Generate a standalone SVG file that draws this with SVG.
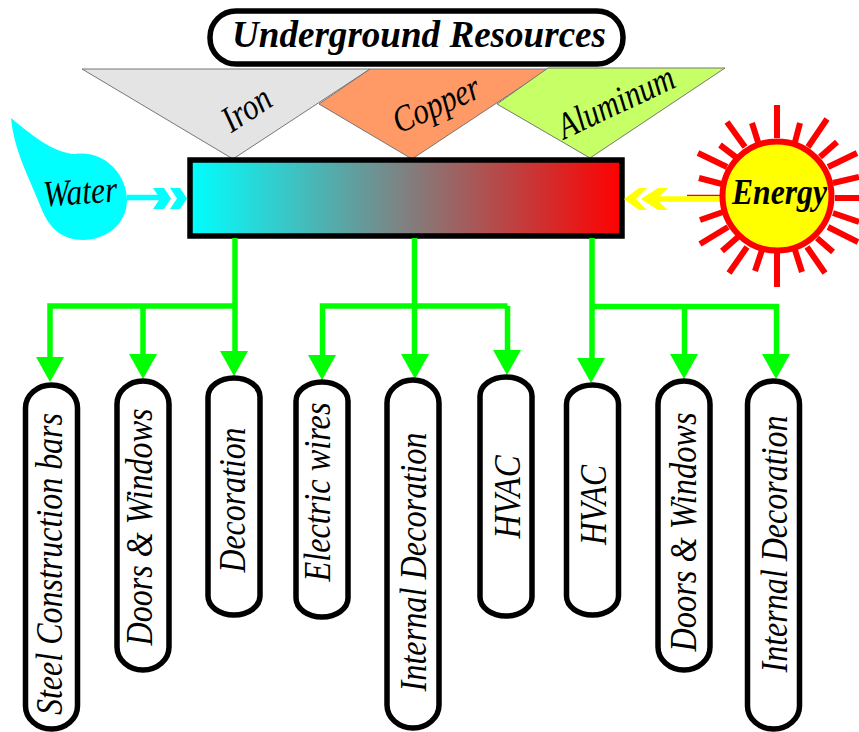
<svg xmlns="http://www.w3.org/2000/svg" width="859" height="732" viewBox="0 0 859 732">
<style>
text{font-family:"Liberation Serif","Times New Roman",serif;font-style:italic;fill:#000;text-anchor:middle}
.pill{fill:#fff;stroke:#000;stroke-width:5.5}
.lbl{font-size:37px}
.tri{stroke:#777;stroke-width:1}
.g{fill:none;stroke:#0f0;stroke-width:5.5}
.ray{stroke:#f00;stroke-width:6;fill:none}
</style>
<defs>
<linearGradient id="grad"><stop offset="0" stop-color="#0ff"/><stop offset=".5" stop-color="#808080"/><stop offset="1" stop-color="#f00"/></linearGradient>
<polygon id="head" points="-14,-25 14,-25 0,0" fill="#0f0"/>
</defs>
<g id="node-iron"><polygon class="tri" points="82,69 370,69 233,159" fill="#e4e4e4"/><text transform="translate(253 119) rotate(-33)" class="lbl" textLength="52" lengthAdjust="spacingAndGlyphs">Iron</text></g>
<g id="node-copper"><polygon class="tri" points="319,104 370,69 548,69 412,159" fill="#ff9966"/><text transform="translate(441 115) rotate(-24)" class="lbl" textLength="92" lengthAdjust="spacingAndGlyphs">Copper</text></g>
<g id="node-aluminum"><polygon class="tri" points="497,104 548,68 725,68 590,158" fill="#c6ff66"/><text transform="translate(621 113) rotate(-25)" class="lbl" textLength="125" lengthAdjust="spacingAndGlyphs">Aluminum</text></g>
<g id="node-title"><rect x="210" y="11" width="413" height="53" rx="26" fill="#fff" stroke="#000" stroke-width="5.5"/><text x="419" y="47" font-size="38" font-weight="bold" textLength="374" lengthAdjust="spacingAndGlyphs">Underground Resources</text></g>
<g id="node-water"><path d="M11 118C35 138 55 153 75 154C105 150 127 175 127 200C127 225 105 240 83 240C60 240 48 225 42 210C28 175 14 150 11 118Z" fill="#0ff"/><text x="81" y="204" class="lbl" transform="rotate(-4 81 204)" textLength="74" lengthAdjust="spacingAndGlyphs">Water</text></g>
<g id="node-center"><rect x="190" y="160" width="432" height="76" fill="url(#grad)" stroke="#000" stroke-width="5.500"/></g>
<g id="node-energy">
<path class="ray" d="M777 105V138M777 253V287M727 122L745 147M827 119L808 147M752 123L758 142M800 123L795 142M720 145L737 158M837 142L820 157M698 153L727 167M857 153L828 167M699 178L722 184M859 177L833 183M835 198H859M700 220L723 212M859 222L833 213M700 244L728 227M858 242L828 227M722 251L738 237M833 252L817 238M729 273L747 247M825 273L807 247M755 271L762 250M802 272L795 250"/>
<path d="M687 195.500H722" stroke="#f00" stroke-width="1.500" fill="none"/>
</g>
<g id="connectors">
<path d="M127 197.500H160" stroke="#0ff" stroke-width="5.500" fill="none"/>
<path d="M153 188h11l7 10.500-7 10.500h-11l7-10.500zM170 188h10l7 10.500-7 10.500h-10l7-10.500z" fill="#0ff"/>
<path d="M722 199H655" stroke="#ff0" stroke-width="5.500" fill="none"/>
<path d="M641 199L658 188h10l-12 11 12 11h-10zM624 199L639 188h8l-11 11 11 11h-8z" fill="#ff0"/>
<path class="g" d="M235 238V352M235 306H50V358M143 306V354"/>
<use href="#head" x="50" y="382"/><use href="#head" x="143" y="379"/><use href="#head" x="234" y="376"/>
<path class="g" d="M414.500 238V356M507.500 306H322.500V356M507.500 306V352"/>
<use href="#head" x="322" y="380"/><use href="#head" x="415" y="379"/><use href="#head" x="507" y="375"/>
<path class="g" d="M592 238V360M592 306.500H776.500V354M684.500 306.500V356"/>
<use href="#head" x="591" y="383"/><use href="#head" x="684" y="379"/><use href="#head" x="776" y="379"/>
</g>
<g id="node-energy-disc">
<circle cx="777" cy="196" r="54.500" fill="#ff0" stroke="#f00" stroke-width="6"/>
<text x="779.500" y="204" font-size="35" font-weight="bold" textLength="95" lengthAdjust="spacingAndGlyphs">Energy</text></g>
<g id="node-p1"><rect class="pill" x="25.500" y="385" width="52" height="344" rx="26" ry="23"/><text transform="translate(62 564) rotate(-90)" class="lbl" textLength="302" lengthAdjust="spacingAndGlyphs">Steel Construction bars</text></g>
<g id="node-p2"><rect class="pill" x="117" y="381" width="52" height="289" rx="26" ry="23"/><text transform="translate(152 527) rotate(-90)" class="lbl" textLength="237" lengthAdjust="spacingAndGlyphs">Doors &amp; Windows</text></g>
<g id="node-p3"><rect class="pill" x="208" y="378" width="52" height="237" rx="26" ry="19"/><text transform="translate(245 500) rotate(-90)" class="lbl" textLength="145" lengthAdjust="spacingAndGlyphs">Decoration</text></g>
<g id="node-p4"><rect class="pill" x="296" y="382" width="52" height="235" rx="26" ry="19"/><text transform="translate(330 492) rotate(-90)" class="lbl" textLength="179" lengthAdjust="spacingAndGlyphs">Electric wires</text></g>
<g id="node-p5"><rect class="pill" x="387" y="380" width="52" height="348" rx="26" ry="23"/><text transform="translate(426 562) rotate(-90)" class="lbl" textLength="259" lengthAdjust="spacingAndGlyphs">Internal Decoration</text></g>
<g id="node-p6"><rect class="pill" x="480" y="377" width="52" height="239" rx="26" ry="19"/><text transform="translate(520 497) rotate(-90)" class="lbl" textLength="83" lengthAdjust="spacingAndGlyphs">HVAC</text></g>
<g id="node-p7"><rect class="pill" x="566.500" y="385" width="52" height="230" rx="26" ry="19"/><text transform="translate(606 505) rotate(-90)" class="lbl" textLength="80" lengthAdjust="spacingAndGlyphs">HVAC</text></g>
<g id="node-p8"><rect class="pill" x="658" y="381" width="52" height="289" rx="26" ry="23"/><text transform="translate(696 532) rotate(-90)" class="lbl" textLength="239" lengthAdjust="spacingAndGlyphs">Doors &amp; Windows</text></g>
<g id="node-p9"><rect class="pill" x="747.500" y="381" width="52" height="348" rx="26" ry="23"/><text transform="translate(787 544) rotate(-90)" class="lbl" textLength="257" lengthAdjust="spacingAndGlyphs">Internal Decoration</text></g>
</svg>
